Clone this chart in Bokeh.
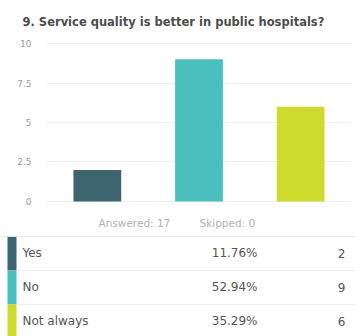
from bokeh.plotting import figure
from bokeh.models import ColumnDataSource, Range1d, FactorRange
from bokeh.embed import file_html
from bokeh.resources import INLINE
from bokeh.core.properties import value

title_text = "9. Service quality is better in public hospitals?"
categories = ["Yes", "No", "Not always"]
counts = [2, 9, 6]
percents = ["11.76%", "52.94%", "35.29%"]
colors = ["#3d6570", "#4bbfbd", "#cddb2e"]
answered = 17
skipped = 0
y_ticks = [0, 2.5, 5, 7.5, 10]

FONT = "DejaVu Sans"

# ---------------- bar chart ----------------
p = figure(width=355, height=210, x_range=FactorRange(*categories, range_padding=0),
           y_range=Range1d(-0.127, 10.127), output_backend="svg", toolbar_location=None,
           min_border_left=46, min_border_right=4, min_border_top=41, min_border_bottom=7)
p.outline_line_color = None
src = ColumnDataSource(dict(x=categories, top=counts, color=colors))
p.vbar(x="x", top="top", width=0.47, color="color", source=src, line_color=None)

p.xaxis.visible = False
p.xgrid.visible = False
p.yaxis.ticker = y_ticks
p.yaxis.axis_line_color = None
p.yaxis.major_tick_line_color = None
p.yaxis.minor_tick_line_color = None
p.yaxis.major_tick_out = 0
p.yaxis.major_label_standoff = 15
p.yaxis.major_label_text_font = FONT
p.yaxis.major_label_text_font_size = "9px"
p.yaxis.major_label_text_color = "#9a9a9a"
p.ygrid.grid_line_color = "#eeeeee"
p.ygrid.grid_line_width = 1

p.title.text = title_text
p.title.align = "left"
p.title.offset = -24
p.title.standoff = 25
p.title.text_font = FONT
p.title.text_font_size = "11.5px"
p.title.text_font_style = "bold"
p.title.text_color = "#4d4d4d"

# ---------------- table ----------------
t = figure(width=355, height=126, x_range=Range1d(0, 355), y_range=Range1d(2.4412, -1.2647),
           output_backend="svg", toolbar_location=None,
           min_border=0, min_border_left=0, min_border_right=0, min_border_top=0, min_border_bottom=0)
t.outline_line_color = None
t.axis.visible = False
t.grid.visible = False

t.text(x=[98, 199], y=[-0.8824, -0.8824], text=[f"Answered: {answered}", f"Skipped: {skipped}"],
       text_font=value(FONT), text_font_size="10.5px", text_color="#b0b0b0",
       text_baseline="middle", text_align="left")

rows = list(range(len(categories)))
tsrc = ColumnDataSource(dict(y=rows, label=categories, pct=percents,
                             cnt=[str(c) for c in counts], color=colors))
t.hbar(y="y", left=7, right=16, height=1, color="color", line_color=None, source=tsrc)
t.segment(x0=[0], x1=[355], y0=[-0.5], y1=[-0.5], line_color="#e6e6e6", line_width=1)
t.segment(x0=[16, 16], x1=[355, 355], y0=[0.5, 1.5], y1=[0.5, 1.5], line_color="#eeeeee", line_width=1)
t.text(x=22, y="y", text="label", source=tsrc, text_font=value(FONT), text_font_size="12px",
       text_color="#555555", text_baseline="middle", text_align="left")
t.text(x=257, y="y", text="pct", source=tsrc, text_font=value(FONT), text_font_size="12px",
       text_color="#555555", text_baseline="middle", text_align="right")
t.text(x=345, y="y", text="cnt", source=tsrc, text_font=value(FONT), text_font_size="12px",
       text_color="#555555", text_baseline="middle", text_align="right")

open("out.html", "w").write(file_html([p, t], INLINE))
